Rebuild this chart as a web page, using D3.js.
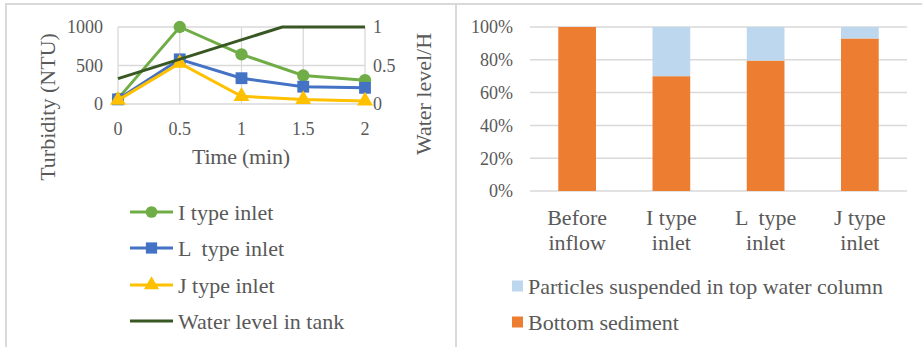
<!DOCTYPE html>
<html><head><meta charset="utf-8">
<script src="https://cdn.jsdelivr.net/npm/d3@7"></script>
<style>body{margin:0;background:#fff}svg{display:block}</style>
</head><body><svg id="c" width="922" height="347" font-family="'Times New Roman', 'Liberation Serif', 'DejaVu Serif', serif"></svg>
<script>
// ---- Left chart data ----
const timeTicks = [0, 0.5, 1, 1.5, 2];
const turbTicks = [0, 500, 1000];
const levelTicks = [0, 0.5, 1];
const levelTickLabels = ["0", "0.5", "1"];
const iType = [70, 1000, 645, 370, 310];
const lType = [60, 580, 335, 225, 210];
const jType = [50, 530, 100, 60, 40];
const levelTime = [0, 1.33, 2];
const levelVals = [0.33, 1, 1];
const seriesNames = ["I type inlet", "L  type inlet", "J type inlet", "Water level in tank"];
const seriesColors = ["#70AD47", "#4472C4", "#FFC000", "#385723"];
// ---- Right chart data ----
const categories = [["Before", "inflow"], ["I type", "inlet"], ["L  type", "inlet"], ["J type", "inlet"]];
const bottomSediment = [100, 70, 79.5, 93];
const suspended = [0, 30, 20.5, 7];
const pctTicks = [0, 20, 40, 60, 80, 100];
const stackNames = ["Particles suspended in top water column", "Bottom sediment"];
const stackColors = ["#BDD7EE", "#ED7D31"];

const svg = d3.select("#c");
const grid = "#d9d9d9";
const txt = "#595959";

// panel borders
svg.append("path").attr("d", "M6,347V4H922").attr("fill", "none").attr("stroke", grid).attr("stroke-width", 2);
svg.append("line").attr("x1", 456).attr("x2", 456).attr("y1", 4).attr("y2", 347).attr("stroke", grid).attr("stroke-width", 2);

// ---- Left chart ----
const x = d3.scaleLinear().domain([0, 2]).range([118, 365]);
const y = d3.scaleLinear().domain([0, 1000]).range([104, 27]);
const y2 = d3.scaleLinear().domain([0, 1]).range([104, 27]);
const L = svg.append("g").attr("fill", txt);
L.selectAll(".vg").data(timeTicks).join("line").attr("x1", d => x(d)).attr("x2", d => x(d))
  .attr("y1", y(1000)).attr("y2", y(0)).attr("stroke", grid).attr("stroke-width", 1.3);
L.selectAll(".hg").data(turbTicks).join("line").attr("x1", x(0)).attr("x2", x(2))
  .attr("y1", d => y(d)).attr("y2", d => y(d)).attr("stroke", grid).attr("stroke-width", 1.3);
L.selectAll(".yt").data(turbTicks).join("text").attr("x", 103).attr("y", d => y(d)).attr("dy", "0.35em")
  .attr("text-anchor", "end").attr("font-size", 18).text(d => d);
L.selectAll(".y2t").data(levelTicks).join("text").attr("x", 373).attr("y", d => y2(d)).attr("dy", "0.35em")
  .attr("font-size", 18).text((d, i) => levelTickLabels[i]);
L.selectAll(".xt").data(timeTicks).join("text").attr("x", d => x(d)).attr("y", 129).attr("dy", "0.35em")
  .attr("text-anchor", "middle").attr("font-size", 18).text(d => d);
L.append("text").attr("x", 241).attr("y", 156).attr("dy", "0.35em").attr("text-anchor", "middle")
  .attr("font-size", 22).attr("textLength", 98).text("Time (min)");
L.append("text").attr("transform", "translate(47,107) rotate(-90)").attr("dy", "0.35em")
  .attr("text-anchor", "middle").attr("font-size", 22).text("Turbidity (NTU)");
L.append("text").attr("transform", "translate(423,94) rotate(-90)").attr("dy", "0.35em")
  .attr("text-anchor", "middle").attr("font-size", 22).text("Water level/H");

const line = d3.line().x(d => x(d[0])).y(d => d[1]);
const turbSeries = [iType, lType, jType];
const shapes = [d3.symbolCircle, d3.symbolSquare, d3.symbolTriangle];
const sizes = [120, 140, 110];
turbSeries.forEach((s, k) => {
  const pts = s.map((v, i) => [timeTicks[i], y(v)]);
  L.append("path").attr("d", line(pts)).attr("fill", "none").attr("stroke", seriesColors[k]).attr("stroke-width", 3);
  L.selectAll(null).data(pts).join("path")
    .attr("transform", d => `translate(${x(d[0])},${d[1]})`)
    .attr("d", d3.symbol(shapes[k], sizes[k])).attr("fill", seriesColors[k]);
});
L.append("path").attr("d", line(levelVals.map((v, i) => [levelTime[i], y2(v)])))
  .attr("fill", "none").attr("stroke", seriesColors[3]).attr("stroke-width", 3);

// left legend
const legY = [212, 248, 285, 321];
seriesNames.forEach((n, k) => {
  const g = svg.append("g").attr("fill", txt);
  g.append("line").attr("x1", 130).attr("x2", 173).attr("y1", legY[k]).attr("y2", legY[k])
    .attr("stroke", seriesColors[k]).attr("stroke-width", 3);
  if (k < 3) g.append("path").attr("transform", `translate(151.5,${legY[k]})`)
    .attr("d", d3.symbol(shapes[k], sizes[k] * 0.9)).attr("fill", seriesColors[k]);
  g.append("text").attr("x", 178).attr("y", legY[k]).attr("dy", "0.35em").attr("font-size", 22)
    .style("white-space", "pre").text(n);
});

// ---- Right chart ----
const xb = d3.scaleBand().domain(d3.range(categories.length)).range([530, 907]);
const yb = d3.scaleLinear().domain([0, 100]).range([191, 27]);
const R = svg.append("g").attr("fill", txt);
R.selectAll(".g").data(pctTicks).join("line").attr("x1", 530).attr("x2", 907)
  .attr("y1", d => yb(d)).attr("y2", d => yb(d)).attr("stroke", grid).attr("stroke-width", 1.5);
R.selectAll(".t").data(pctTicks).join("text").attr("x", 513).attr("y", d => yb(d)).attr("dy", "0.35em")
  .attr("text-anchor", "end").attr("font-size", 18).text(d => d + "%");
const bw = xb.bandwidth() * 0.4;
const stacked = d3.stack().keys(["b", "s"])(bottomSediment.map((b, i) => ({ b: b, s: suspended[i] })));
const stackFill = { b: stackColors[1], s: stackColors[0] };
stacked.forEach(layer => {
  R.selectAll(null).data(layer).join("rect")
    .attr("x", (d, i) => xb(i) + xb.bandwidth() / 2 - bw / 2).attr("width", bw)
    .attr("y", d => yb(d[1])).attr("height", d => yb(d[0]) - yb(d[1]))
    .attr("fill", stackFill[layer.key]);
});
categories.forEach((c, i) => {
  c.forEach((t, j) => {
    R.append("text").attr("x", xb(i) + xb.bandwidth() / 2).attr("y", 217 + j * 25).attr("dy", "0.35em")
      .attr("text-anchor", "middle").attr("font-size", 22).style("white-space", "pre").text(t);
  });
});
const rLegY = [286, 322];
stackNames.forEach((n, k) => {
  R.append("rect").attr("x", 512).attr("y", rLegY[k] - 5.5).attr("width", 11).attr("height", 11).attr("fill", stackColors[k]);
  R.append("text").attr("x", 528).attr("y", rLegY[k]).attr("dy", "0.35em").attr("font-size", 22).text(n);
});
</script></body></html>
